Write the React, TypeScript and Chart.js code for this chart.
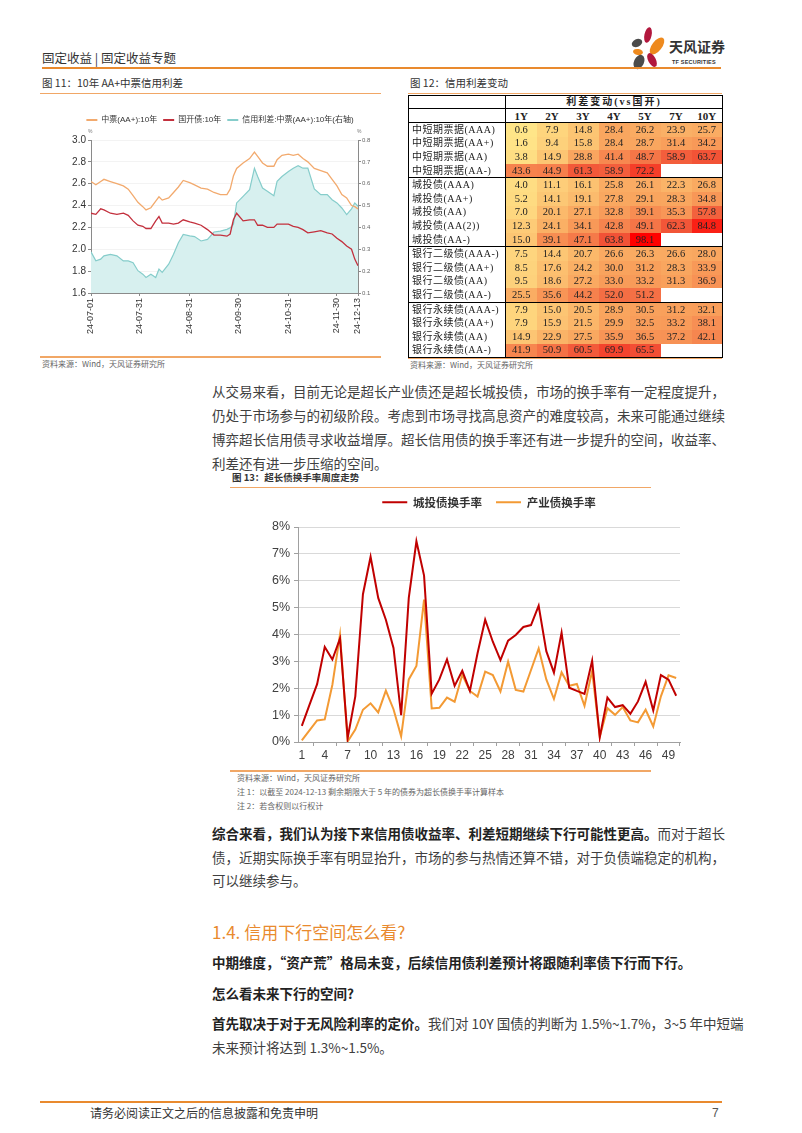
import React, { useEffect, useRef } from "react";
import { Chart, registerables } from "chart.js";
Chart.register(...registerables);

const CJK = '"Noto Sans CJK SC", "Noto Sans", sans-serif';
const SANS = '"Liberation Sans", "Noto Sans CJK SC", sans-serif';
const SERIF = '"Liberation Serif", "Noto Sans CJK SC", serif';

// ---------------- Figure 11 data (calendar days since 2024-07-01) ----------------
const spreadDays = [0, 3, 6, 8, 12, 16, 20, 23, 26, 29, 32, 34, 37, 40, 42, 44, 48, 51, 54, 57, 61, 64, 68, 72, 76, 80, 84, 86, 88, 90, 94, 98, 101, 103, 106, 109, 113, 115, 118, 122, 125, 128, 131, 134, 138, 142, 146, 149, 152, 155, 158, 161, 163, 165];
const spreadTickDays = [0, 30, 61, 91, 122, 152, 165];
const spreadTickLabels = ["24-07-01", "24-07-31", "24-08-31", "24-09-30", "24-10-31", "24-11-30", "24-12-13"];
const mtnYield10Y = [2.62, 2.59, 2.62, 2.64, 2.62, 2.6, 2.58, 2.55, 2.49, 2.43, 2.39, 2.36, 2.38, 2.44, 2.48, 2.45, 2.47, 2.52, 2.57, 2.63, 2.61, 2.59, 2.56, 2.55, 2.52, 2.5, 2.5, 2.55, 2.67, 2.74, 2.79, 2.83, 2.89, 2.85, 2.79, 2.76, 2.76, 2.82, 2.86, 2.87, 2.86, 2.87, 2.83, 2.8, 2.74, 2.72, 2.7, 2.64, 2.58, 2.5, 2.47, 2.4, 2.39, 2.37];
const cdbYield10Y = [2.33, 2.32, 2.37, 2.36, 2.33, 2.32, 2.33, 2.31, 2.26, 2.22, 2.21, 2.19, 2.19, 2.26, 2.3, 2.24, 2.24, 2.23, 2.24, 2.27, 2.25, 2.24, 2.22, 2.18, 2.13, 2.13, 2.12, 2.14, 2.27, 2.33, 2.26, 2.27, 2.27, 2.22, 2.22, 2.2, 2.2, 2.23, 2.23, 2.23, 2.21, 2.2, 2.18, 2.15, 2.16, 2.17, 2.15, 2.14, 2.1, 2.07, 2.03, 2.0, 1.91, 1.85];
const mtnSpread10Y = [0.288, 0.247, 0.255, 0.27, 0.277, 0.27, 0.247, 0.247, 0.239, 0.202, 0.186, 0.171, 0.186, 0.171, 0.209, 0.194, 0.232, 0.277, 0.33, 0.368, 0.361, 0.358, 0.338, 0.345, 0.379, 0.383, 0.391, 0.398, 0.414, 0.512, 0.542, 0.573, 0.671, 0.633, 0.58, 0.565, 0.545, 0.611, 0.633, 0.656, 0.671, 0.682, 0.671, 0.671, 0.576, 0.55, 0.55, 0.527, 0.512, 0.489, 0.459, 0.485, 0.512, 0.497];

// ---------------- Figure 12 data ----------------
const tenors = ["1Y", "2Y", "3Y", "4Y", "5Y", "7Y", "10Y"];
const mtnRows = ["中短期票据(AAA)", "中短期票据(AA+)", "中短期票据(AA)", "中短期票据(AA-)"];
const mtnValues = [
  [0.6, 7.9, 14.8, 28.4, 26.2, 23.9, 25.7],
  [1.6, 9.4, 15.8, 28.4, 28.7, 31.4, 34.2],
  [3.8, 14.9, 28.8, 41.4, 48.7, 58.9, 63.7],
  [43.6, 44.9, 61.3, 58.9, 72.2, null, null],
];
const lgfvRows = ["城投债(AAA)", "城投债(AA+)", "城投债(AA)", "城投债(AA(2))", "城投债(AA-)"];
const lgfvValues = [
  [4.0, 11.1, 16.1, 25.8, 26.1, 22.3, 26.8],
  [5.2, 14.1, 19.1, 27.8, 29.1, 28.3, 34.8],
  [7.0, 20.1, 27.1, 32.8, 39.1, 35.3, 57.8],
  [12.3, 24.1, 34.1, 42.8, 49.1, 62.3, 84.8],
  [15.0, 39.1, 47.1, 63.8, 98.1, null, null],
];
const tier2Rows = ["银行二级债(AAA-)", "银行二级债(AA+)", "银行二级债(AA)", "银行二级债(AA-)"];
const tier2Values = [
  [7.5, 14.4, 20.7, 26.6, 26.3, 26.6, 28.0],
  [8.5, 17.6, 24.2, 30.0, 31.2, 28.3, 33.9],
  [9.5, 18.6, 27.2, 33.0, 33.2, 31.3, 36.9],
  [25.5, 35.6, 44.2, 52.0, 51.2, null, null],
];
const perpRows = ["银行永续债(AAA-)", "银行永续债(AA+)", "银行永续债(AA)", "银行永续债(AA-)"];
const perpValues = [
  [7.9, 15.0, 20.5, 28.9, 30.5, 31.2, 32.1],
  [7.9, 15.9, 21.5, 29.9, 32.5, 33.2, 38.1],
  [14.9, 22.9, 27.5, 35.9, 36.5, 37.2, 42.1],
  [41.9, 50.9, 60.5, 69.9, 65.5, null, null],
];

// ---------------- Figure 13 data ----------------
const weekLabels = ["1", "2", "3", "4", "5", "6", "7", "8", "9", "10", "11", "12", "13", "14", "15", "16", "17", "18", "19", "20", "21", "22", "23", "24", "25", "26", "27", "28", "29", "30", "31", "32", "33", "34", "35", "36", "37", "38", "39", "40", "41", "42", "43", "44", "45", "46", "47", "48", "49", "50"];
const lgfvTurnover = [0.6, 1.38, 2.15, 3.54, 3.07, 3.85, 0.15, 1.7, 5.5, 6.89, 5.36, 4.55, 3.5, 1.0, 5.36, 7.47, 6.19, 1.8, 2.33, 3.07, 2.09, 2.65, 1.9, 3.3, 4.55, 3.73, 3.05, 3.77, 3.98, 4.28, 4.35, 5.07, 3.38, 2.58, 4.07, 2.02, 1.9, 1.79, 3.03, 0.18, 1.65, 1.3, 1.37, 1.05, 1.51, 2.24, 1.17, 2.49, 2.32, 1.72];
const industryTurnover = [0.06, 0.43, 0.8, 0.84, 2.13, 4.0, 0.02, 0.46, 1.2, 1.44, 1.1, 1.91, 1.22, 0.21, 2.33, 2.83, 5.3, 1.25, 1.27, 1.65, 1.5, 2.5, 1.9, 1.69, 2.62, 2.49, 1.88, 2.99, 1.94, 1.88, 2.68, 3.48, 2.33, 1.6, 2.59, 2.09, 2.16, 1.35, 2.65, 0.2, 1.26, 1.01, 1.3, 0.8, 0.73, 1.2, 0.58, 1.7, 2.48, 2.38];

// ---------------- helpers ----------------
const ORANGE = "#E98A2E";
const LIGHT_ORANGE = "#F1A766";

const lineLegend = (chart: any) =>
  (Chart.defaults.plugins.legend.labels as any).generateLabels(chart).map((it: any) => ({
    ...it,
    fillStyle: it.strokeStyle,
    lineWidth: 0,
  }));

function ChartBox({ make, style }: { make: (c: HTMLCanvasElement) => Chart; style: React.CSSProperties }) {
  const ref = useRef<HTMLCanvasElement>(null);
  useEffect(() => {
    const ch = make(ref.current as HTMLCanvasElement);
    return () => ch.destroy();
  }, []);
  return (
    <div style={{ position: "absolute", ...style }}>
      <canvas ref={ref} />
    </div>
  );
}

function makeSpreadChart(canvas: HTMLCanvasElement) {
  const pts = (arr: number[]) => spreadDays.map((d, i) => ({ x: d, y: arr[i] }));
  return new Chart(canvas, {
    type: "line",
    data: {
      datasets: [
        { label: "中票(AA+):10年", data: pts(mtnYield10Y), borderColor: "#F2AA6E", backgroundColor: "#F2AA6E", borderWidth: 1.3, pointRadius: 0, yAxisID: "y", order: 1 },
        { label: "国开债:10年", data: pts(cdbYield10Y), borderColor: "#C3303D", backgroundColor: "#C3303D", borderWidth: 1.3, pointRadius: 0, yAxisID: "y", order: 2 },
        { label: "信用利差:中票(AA+):10年(右轴)", data: pts(mtnSpread10Y), borderColor: "#86CDCB", backgroundColor: "#D7F0EF", borderWidth: 1.2, pointRadius: 0, fill: "start", yAxisID: "y1", order: 3 },
      ],
    },
    options: {
      animation: false,
      responsive: true,
      maintainAspectRatio: false,
      layout: { padding: { top: 10 } },
      plugins: {
        legend: {
          weight: 3000,
          labels: { boxWidth: 11, boxHeight: 2, padding: 6, font: { size: 8, family: SANS }, color: "#333", generateLabels: lineLegend },
        } as any,
        title: { display: true, text: "", font: { size: 1, lineHeight: 1 }, padding: { top: 5, bottom: 0 } },
        tooltip: { enabled: false },
      },
      scales: {
        x: {
          type: "linear",
          min: 0,
          max: 165,
          afterBuildTicks: (s: any) => {
            s.ticks = spreadTickDays.map((v) => ({ value: v }));
          },
          afterFit: (s: any) => {
            s.height = 57;
          },
          ticks: {
            autoSkip: false,
            minRotation: 90,
            maxRotation: 90,
            padding: 2,
            font: { size: 9, family: SANS },
            color: "#333",
            callback: (v: any) => {
              const k = spreadTickDays.indexOf(v);
              return k >= 0 ? spreadTickLabels[k] : "";
            },
          },
          grid: { drawOnChartArea: false, tickLength: 3, tickColor: "#8a8a8a" },
          border: { color: "#8a8a8a" },
        },
        y: {
          position: "left",
          min: 1.6,
          max: 3.0,
          afterFit: (s: any) => {
            s.width = 31;
          },
          ticks: { stepSize: 0.2, padding: 2, font: { size: 10, family: SANS }, color: "#333", callback: (v: any) => Number(v).toFixed(1) },
          grid: { color: "#f3f3f3", tickLength: 3, tickColor: "#8a8a8a" },
          border: { color: "#8a8a8a" },
        },
        y1: {
          position: "right",
          min: 0.1,
          max: 0.8,
          afterFit: (s: any) => {
            s.width = 22;
          },
          ticks: { stepSize: 0.1, padding: 1, font: { size: 6, family: SANS }, color: "#666", callback: (v: any) => Number(v).toFixed(1) },
          grid: { drawOnChartArea: false, tickLength: 3, tickColor: "#8a8a8a" },
          border: { color: "#8a8a8a" },
        },
      },
    } as any,
  });
}

function makeTurnoverChart(canvas: HTMLCanvasElement) {
  return new Chart(canvas, {
    type: "line",
    data: {
      labels: weekLabels,
      datasets: [
        { label: "城投债换手率", data: lgfvTurnover, borderColor: "#C00000", backgroundColor: "#C00000", borderWidth: 2, pointRadius: 0, tension: 0 },
        { label: "产业债换手率", data: industryTurnover, borderColor: "#F39A34", backgroundColor: "#F39A34", borderWidth: 2, pointRadius: 0, tension: 0 },
      ],
    },
    options: {
      animation: false,
      responsive: true,
      maintainAspectRatio: false,
      layout: { padding: { top: 0.5, right: 10 } },
      plugins: {
        legend: {
          weight: 3000,
          fullSize: false,
          labels: { boxWidth: 25, boxHeight: 2, padding: 14, font: { size: 11.5, weight: "bold", family: CJK }, color: "#333", generateLabels: lineLegend },
        } as any,
        title: { display: true, text: "", font: { size: 1, lineHeight: 1 }, padding: { top: 8, bottom: 0 } },
        tooltip: { enabled: false },
      },
      scales: {
        x: {
          offset: true,
          afterFit: (s: any) => {
            s.height = 28;
          },
          ticks: {
            autoSkip: false,
            maxRotation: 0,
            padding: 2,
            font: { size: 12, family: SANS },
            color: "#404040",
            callback: (_v: any, i: number) => (i % 3 === 0 ? weekLabels[i] : null),
          },
          grid: { offset: true, drawOnChartArea: false, tickLength: 4, tickColor: "#a0a0a0" },
          border: { color: "#a0a0a0" },
        },
        y: {
          min: 0,
          max: 8,
          afterFit: (s: any) => {
            s.width = 68;
          },
          ticks: { stepSize: 1, padding: 4, font: { size: 12.5, family: SANS }, color: "#404040", callback: (v: any) => v + "%" },
          grid: { color: "#d9d9d9", tickLength: 4, tickColor: "#a0a0a0" },
          border: { color: "#a0a0a0" },
        },
      },
    } as any,
  });
}

// heat colour for the spread table
const allSpreadValues = [...mtnValues, ...lgfvValues, ...tier2Values, ...perpValues].flat().filter((v) => v != null) as number[];
const heatMin = Math.min(...allSpreadValues);
const heatMax = Math.max(...allSpreadValues);
const heatStops = [
  [0, 255, 229, 136],
  [0.3, 249, 163, 93],
  [0.65, 242, 82, 54],
  [1, 255, 0, 0],
];
function heat(v: number) {
  const t = (v - heatMin) / (heatMax - heatMin);
  for (let i = 1; i < heatStops.length; i++) {
    const a = heatStops[i - 1];
    const b = heatStops[i];
    if (t <= b[0]) {
      const f = (t - a[0]) / (b[0] - a[0]);
      const c = [1, 2, 3].map((k) => Math.round(a[k] + (b[k] - a[k]) * f));
      return `rgb(${c[0]},${c[1]},${c[2]})`;
    }
  }
  return "rgb(255,0,0)";
}

function SpreadTable() {
  const groups = [
    { rows: mtnRows, values: mtnValues },
    { rows: lgfvRows, values: lgfvValues },
    { rows: tier2Rows, values: tier2Values },
    { rows: perpRows, values: perpValues },
  ];
  const thin = "1px solid #000";
  const cell: React.CSSProperties = { padding: 0, height: 13.6, textAlign: "center", fontSize: 10.5, lineHeight: "12px", color: "#222" };
  return (
    <table
      style={{
        position: "absolute",
        left: 408,
        top: 95,
        width: 315,
        borderCollapse: "collapse",
        tableLayout: "fixed",
        fontFamily: SERIF,
        border: thin,
      }}
    >
      <colgroup>
        <col style={{ width: 97 }} />
        {tenors.map((t) => (
          <col key={t} />
        ))}
      </colgroup>
      <thead>
        <tr>
          <th style={{ ...cell, height: 12, borderRight: thin, borderBottom: thin }}></th>
          <th colSpan={7} style={{ ...cell, height: 12, borderBottom: thin, fontWeight: "bold", fontSize: 10, letterSpacing: 2 }}>
            利差变动(vs国开)
          </th>
        </tr>
        <tr>
          <th style={{ ...cell, height: 13, borderRight: thin }}></th>
          {tenors.map((t) => (
            <th key={t} style={{ ...cell, height: 13, fontWeight: "bold", fontSize: 11 }}>
              {t}
            </th>
          ))}
        </tr>
      </thead>
      <tbody>
        {groups.map((g, gi) =>
          g.rows.map((r, ri) => (
            <tr key={gi + "-" + ri} style={{ borderTop: ri === 0 ? (gi === 0 ? thin : "1.5px solid #000") : undefined }}>
              <td style={{ ...cell, textAlign: "left", paddingLeft: 3, borderRight: thin, letterSpacing: 0.5, fontSize: 10, whiteSpace: "nowrap", overflow: "hidden", background: "#fff" }}>{r}</td>
              {g.values[ri].map((v, ci) => (
                <td key={ci} style={{ ...cell, background: v == null ? "#fff" : heat(v) }}>
                  {v == null ? "" : v.toFixed(1)}
                </td>
              ))}
            </tr>
          ))
        )}
      </tbody>
    </table>
  );
}

function Txt({ x, cy, size, h, children, style }: { x: number; cy: number; size: number; h?: number; children: React.ReactNode; style?: React.CSSProperties }) {
  const hh = h ?? Math.round(size * 1.5);
  return (
    <div
      style={{
        position: "absolute",
        left: x,
        top: cy - hh / 2,
        height: hh,
        lineHeight: hh + "px",
        fontSize: size,
        fontFamily: CJK,
        color: "#3a3a3a",
        whiteSpace: "nowrap",
        ...style,
      }}
    >
      {children}
    </div>
  );
}

function Line({ x, cy, children, full, size = 13.5 }: { x: number; cy: number; children: React.ReactNode; full?: boolean; size?: number }) {
  return (
    <div
      style={{
        position: "absolute",
        left: x,
        top: cy - 12,
        width: 510,
        height: 24,
        lineHeight: "24px",
        fontSize: size,
        fontFamily: CJK,
        color: "#404040",
        whiteSpace: "nowrap",
        textAlign: full ? "justify" : "left",
        textAlignLast: full ? "justify" : "left",
      }}
    >
      {children}
    </div>
  );
}

const B = ({ children }: { children: React.ReactNode }) => <span style={{ fontWeight: "bold", color: "#222" }}>{children}</span>;

function Rule({ x, y, w, h = 1.5, color = LIGHT_ORANGE }: { x: number; y: number; w: number; h?: number; color?: string }) {
  return <div style={{ position: "absolute", left: x, top: y, width: w, height: h, background: color }} />;
}

function Logo() {
  return (
    <svg style={{ position: "absolute", left: 626, top: 26 }} width={44} height={46} viewBox="0 0 44 46">
      <ellipse cx={22} cy={9} rx={3.6} ry={8} transform="rotate(12 22 9)" fill="#B2173D" />
      <ellipse cx={31} cy={20} rx={5} ry={10} transform="rotate(38 31 20)" fill="#EE8A1E" />
      <ellipse cx={11} cy={17} rx={5.5} ry={3.8} transform="rotate(-25 11 17)" fill="#4B4B4B" />
      <ellipse cx={12} cy={26} rx={5} ry={3} transform="rotate(10 12 26)" fill="#EE8A1E" />
      <ellipse cx={13} cy={36} rx={5} ry={7.5} transform="rotate(25 13 36)" fill="#4B4B4B" />
      <ellipse cx={26} cy={34} rx={3.8} ry={7.5} transform="rotate(-28 26 34)" fill="#B2173D" />
    </svg>
  );
}

export default function App() {
  return (
    <div style={{ position: "absolute", left: 0, top: 0, width: 802, height: 1133, background: "#fff", overflow: "hidden", fontFamily: CJK }}>
      {/* header */}
      <Txt x={42} cy={57} size={12.5} style={{ color: "#333" }}>固定收益 | 固定收益专题</Txt>
      <Logo />
      <Txt x={669} cy={46} size={14} style={{ fontWeight: "bold", color: "#333", letterSpacing: 0 }}>天风证券</Txt>
      <Txt x={672} cy={62} size={5.5} style={{ fontFamily: SANS, fontWeight: "bold", color: "#333", letterSpacing: 0.2 }}>TF SECURITIES</Txt>
      <Rule x={42} y={67} w={679} h={2} color={ORANGE} />

      {/* figure 11 */}
      <Txt x={42} cy={83} size={10.5} style={{ color: "#333" }}>图 11：10年 AA+中票信用利差</Txt>
      <Rule x={40} y={92.5} w={341} />
      <ChartBox make={makeSpreadChart} style={{ left: 60, top: 100, width: 320, height: 250 }} />
      <Txt x={88} cy={131} size={5} style={{ color: "#777", fontFamily: SANS }}>%</Txt>
      <Txt x={357} cy={131} size={5} style={{ color: "#777", fontFamily: SANS }}>%</Txt>
      <Rule x={40} y={356} w={341} />
      <Txt x={42} cy={364} size={8} style={{ color: "#666" }}>资料来源：Wind，天风证券研究所</Txt>

      {/* figure 12 */}
      <Txt x={410} cy={83} size={10.5} style={{ color: "#333" }}>图 12：信用利差变动</Txt>
      <Rule x={408} y={92.5} w={314} />
      <SpreadTable />
      <Rule x={408} y={357.5} w={314} />
      <Txt x={410} cy={364.5} size={8} style={{ color: "#666" }}>资料来源：Wind，天风证券研究所</Txt>

      {/* paragraph 1 */}
      <Line x={212} cy={391} full>从交易来看，目前无论是超长产业债还是超长城投债，市场的换手率有一定程度提升，</Line>
      <Line x={212} cy={415} full>仍处于市场参与的初级阶段。考虑到市场寻找高息资产的难度较高，未来可能通过继续</Line>
      <Line x={212} cy={439} full>博弈超长信用债寻求收益增厚。超长信用债的换手率还有进一步提升的空间，收益率、</Line>
      <Line x={212} cy={463}>利差还有进一步压缩的空间。</Line>

      {/* figure 13 */}
      <Txt x={232} cy={477} size={9.5} style={{ fontWeight: "bold", color: "#333" }}>图 13：超长债换手率周度走势</Txt>
      <Rule x={230} y={486.5} w={421} />
      <ChartBox make={makeTurnoverChart} style={{ left: 230, top: 482, width: 460, height: 288 }} />
      <Rule x={230} y={770} w={421} />
      <Txt x={237} cy={777.5} size={8} style={{ color: "#666" }}>资料来源：Wind，天风证券研究所</Txt>
      <Txt x={237} cy={792} size={8} style={{ color: "#666" }}>注 1：以截至 2024-12-13 剩余期限大于 5 年的债券为超长债换手率计算样本</Txt>
      <Txt x={237} cy={806} size={8} style={{ color: "#666" }}>注 2：若含权则以行权计</Txt>

      {/* paragraph 2 */}
      <Line x={212} cy={833} full>
        <B>综合来看，我们认为接下来信用债收益率、利差短期继续下行可能性更高。</B>而对于超长
      </Line>
      <Line x={212} cy={857} full>债，近期实际换手率有明显抬升，市场的参与热情还算不错，对于负债端稳定的机构，</Line>
      <Line x={212} cy={880}>可以继续参与。</Line>

      <Txt x={212} cy={932} size={17} style={{ color: ORANGE }}>1.4. 信用下行空间怎么看?</Txt>

      <Line x={212} cy={962}>
        <B>中期维度，“资产荒”格局未变，后续信用债利差预计将跟随利率债下行而下行。</B>
      </Line>
      <Line x={212} cy={993}>
        <B>怎么看未来下行的空间?</B>
      </Line>
      <Line x={212} cy={1023} full>
        <B>首先取决于对于无风险利率的定价。</B>我们对 10Y 国债的判断为 1.5%~1.7%，3~5 年中短端
      </Line>
      <Line x={212} cy={1047}>未来预计将达到 1.3%~1.5%。</Line>

      {/* footer */}
      <Rule x={40} y={1101} w={682} h={2} color={ORANGE} />
      <Txt x={90} cy={1113} size={12} style={{ color: "#333" }}>请务必阅读正文之后的信息披露和免责申明</Txt>
      <Txt x={712} cy={1113} size={12} style={{ color: "#555", fontFamily: SANS }}>7</Txt>
    </div>
  );
}
